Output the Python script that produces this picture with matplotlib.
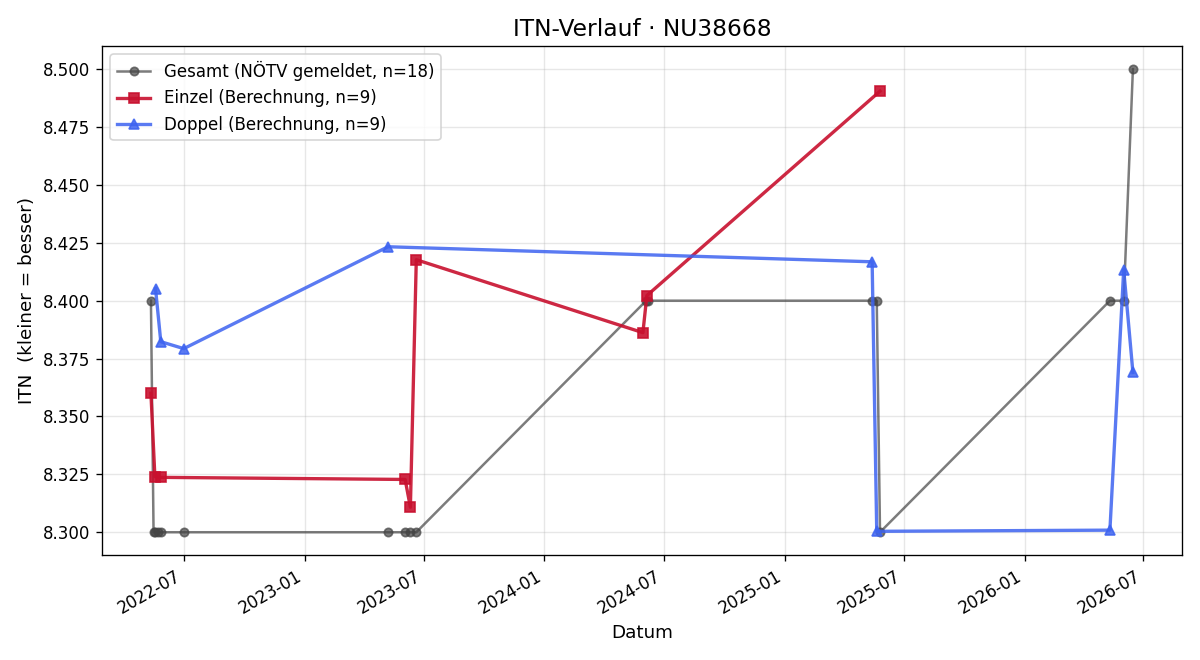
import matplotlib
matplotlib.use("Agg")
import matplotlib.pyplot as plt
import matplotlib.dates as mdates
import pandas as pd

# Gesamt (NÖTV gemeldet)
gesamt_dates = ["2022-05-12", "2022-05-16", "2022-05-18", "2022-05-22", "2022-05-27",
                "2022-07-01", "2023-05-08", "2023-06-03", "2023-06-11", "2023-06-20",
                "2024-06-04", "2024-06-07", "2025-05-14", "2025-05-21", "2025-05-26",
                "2026-05-11", "2026-06-01", "2026-06-15"]
gesamt_itn = [8.400, 8.300, 8.300, 8.300, 8.300,
              8.300, 8.300, 8.300, 8.300, 8.300,
              8.400, 8.400, 8.400, 8.400, 8.300,
              8.400, 8.400, 8.500]

# Einzel (Berechnung)
einzel_dates = ["2022-05-12", "2022-05-18", "2022-05-27", "2023-06-03", "2023-06-11",
                "2023-06-20", "2024-05-30", "2024-06-05", "2025-05-26"]
einzel_itn = [8.360, 8.324, 8.3237, 8.3228, 8.3108, 8.4177, 8.3862, 8.4022, 8.4905]

# Doppel (Berechnung)
doppel_dates = ["2022-05-19", "2022-05-27", "2022-07-01", "2023-05-08", "2025-05-14",
                "2025-05-21", "2026-05-11", "2026-06-01", "2026-06-15"]
doppel_itn = [8.4052, 8.3823, 8.3793, 8.4233, 8.4168, 8.3004, 8.3009, 8.4134, 8.369]

fig, ax = plt.subplots(figsize=(10, 5.5), dpi=120)

ax.plot(pd.to_datetime(gesamt_dates), gesamt_itn, color='#444444', alpha=0.7,
        marker='o', markersize=5, linewidth=1.5,
        label=f"Gesamt (NÖTV gemeldet, n={len(gesamt_itn)})")
ax.plot(pd.to_datetime(einzel_dates), einzel_itn, color='#c8102e', alpha=0.9,
        marker='s', markersize=6, linewidth=2,
        label=f"Einzel (Berechnung, n={len(einzel_itn)})")
ax.plot(pd.to_datetime(doppel_dates), doppel_itn, color='#3d63f0', alpha=0.85,
        marker='^', markersize=6, linewidth=2,
        label=f"Doppel (Berechnung, n={len(doppel_itn)})")

ax.set_title("ITN-Verlauf · NU38668", fontsize=14)
ax.set_xlabel("Datum", fontsize=11)
ax.set_ylabel("ITN  (kleiner = besser)", fontsize=11)
ax.grid(True, alpha=0.3)
ax.yaxis.set_major_formatter(matplotlib.ticker.FormatStrFormatter('%.3f'))
ax.xaxis.set_major_locator(mdates.MonthLocator(bymonth=[1, 7]))
ax.xaxis.set_major_formatter(mdates.DateFormatter('%Y-%m'))
ax.legend(loc='upper left')
fig.autofmt_xdate()

plt.tight_layout()
plt.savefig('out.png')
